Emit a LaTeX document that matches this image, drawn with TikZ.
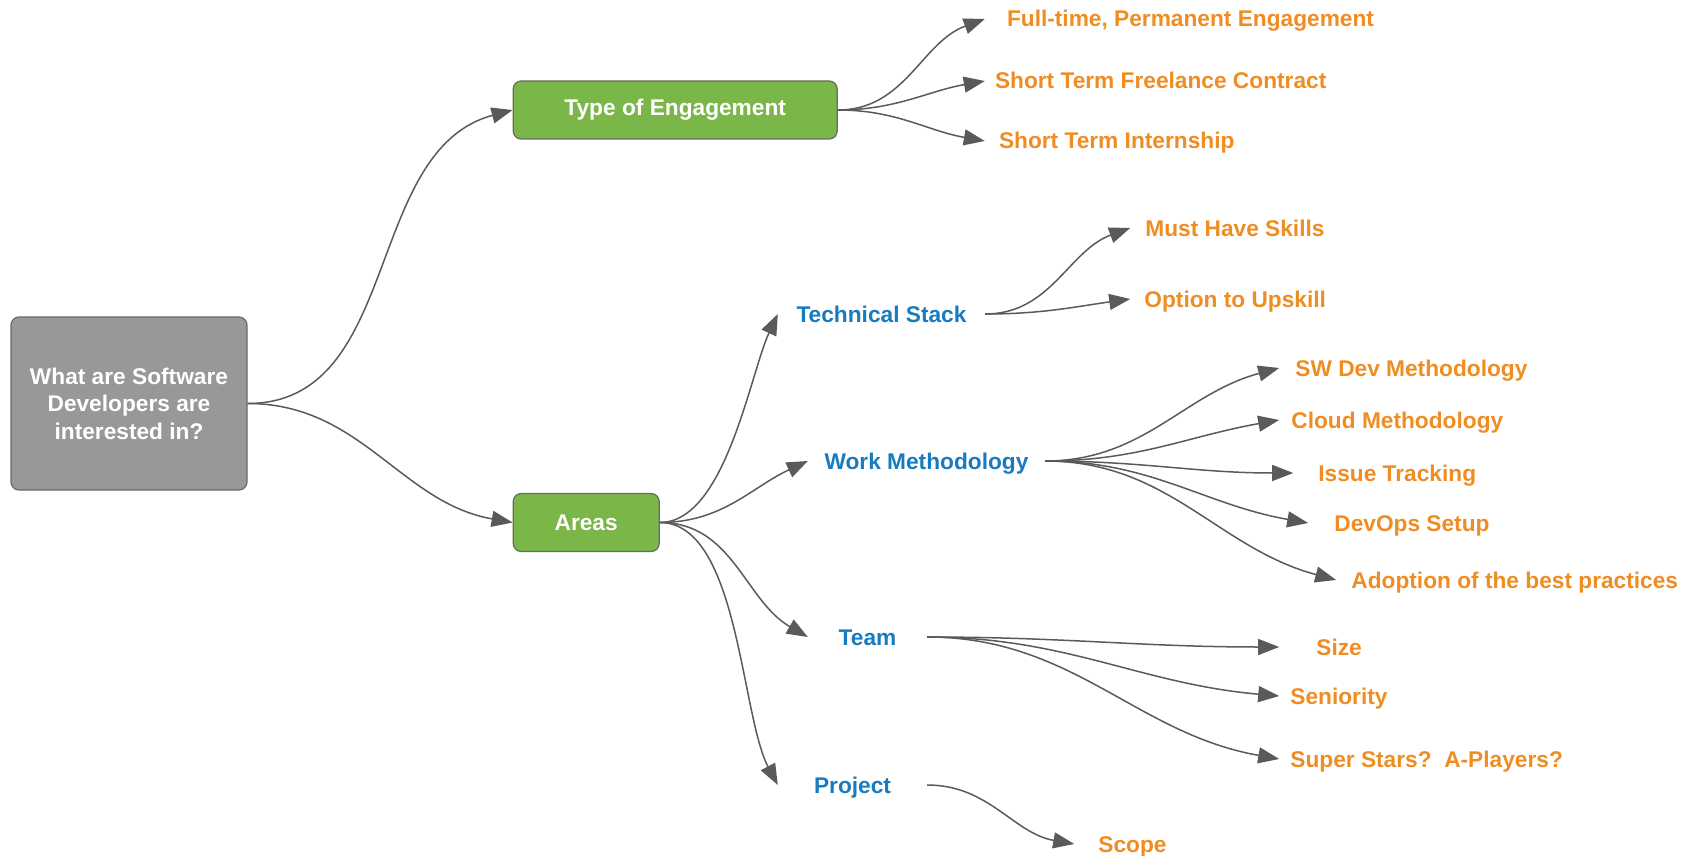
\documentclass[tikz,border=0pt]{standalone}
\usepackage{fontspec}
\setmainfont{Liberation Sans}
\usetikzlibrary{arrows.meta}
\usetikzlibrary{positioning}

\definecolor{boxgray}{HTML}{989898}
\definecolor{boxgreen}{HTML}{7AB648}
\definecolor{rimgray}{HTML}{6A6A6A}
\definecolor{leaforange}{HTML}{EF8D22}
\definecolor{areablue}{HTML}{177BBF}
\definecolor{linkgray}{HTML}{5A5A5A}

\tikzset{
	question/.style={draw=rimgray, fill=boxgray, rounded corners=8pt, line width=1.2pt, text=white, align=center, minimum width=236pt, minimum height=173pt},
	topic/.style={draw=rimgray, fill=boxgreen, rounded corners=8pt, line width=1.2pt, text=white, minimum height=58pt},
	area/.style={text=areablue, inner sep=0pt, text height=16pt, text depth=0pt},
	leaf/.style={text=leaforange, inner ysep=0pt, text height=16pt, text depth=0pt},
}

\begin{document}
\begin{tikzpicture}[x=1pt,y=-1pt,font=\bfseries\fontsize{22.7pt}{27.4pt}\selectfont,>={Triangle[length=21pt,width=16pt]}]
	\useasboundingbox (0,0) rectangle (1690,856);
	\node[question] (Q) at (129,403.5) {What are Software\\Developers are\\interested in?};
	\node[topic, minimum width=324pt, right=265pt of Q.east, yshift=293.5pt] (TE) {Type of Engagement};
	\node[topic, minimum width=146pt, right=265pt of Q.east, yshift=-119pt] (AR) {Areas};
	% type of engagement
	\node[leaf, inner xsep=22pt, right=147pt of TE.east, yshift=91pt] (FT) {Full-time, Permanent Engagement};
	\node[leaf, inner xsep=10pt, right=147pt of TE.east, yshift=29pt] (FL) {Short Term Freelance Contract};
	\node[leaf, inner xsep=14pt, right=147pt of TE.east, yshift=-31pt] (IN) {Short Term Internship};
	% areas
	\node[area, minimum width=207pt, right=118pt of AR.east, yshift=208.5pt] (TS) {Technical Stack};
	\node[area, minimum width=237pt, right=148pt of AR.east, yshift=61.5pt] (WM) {Work Methodology};
	\node[area, minimum width=119pt, right=148pt of AR.east, yshift=-114.5pt] (TM) {Team};
	\node[area, minimum width=149pt, right=118pt of AR.east, yshift=-262.5pt] (PR) {Project};
	\node[leaf, inner xsep=15pt, right=145pt of TS.east, yshift=86pt] (MH) {Must Have Skills};
	\node[leaf, inner xsep=14pt, right=145pt of TS.east, yshift=15pt] (OU) {Option to Upskill};
	\node[leaf, inner xsep=16pt, right=234pt of WM.east, yshift=93pt] (SW) {SW Dev Methodology};
	\node[leaf, inner xsep=12pt, right=234pt of WM.east, yshift=41pt] (CM) {Cloud Methodology};
	\node[leaf, inner xsep=25pt, right=248pt of WM.east, yshift=-12pt] (IT) {Issue Tracking};
	\node[leaf, inner xsep=26pt, right=263pt of WM.east, yshift=-62pt] (DO) {DevOps Setup};
	\node[leaf, inner xsep=15pt, right=291pt of WM.east, yshift=-119pt] (AD) {Adoption of the best practices};
	\node[leaf, inner xsep=37pt, right=352pt of TM.east, yshift=-10pt] (SZ) {Size};
	\node[leaf, inner xsep=11pt, right=352pt of TM.east, yshift=-59pt] (SE) {Seniority};
	\node[leaf, inner xsep=11pt, right=352pt of TM.east, yshift=-122pt] (SS) {Super Stars?\ \ A-Players?};
	\node[leaf, inner xsep=24pt, right=147pt of PR.east, yshift=-59pt] (SC) {Scope};
	\path[->, color=linkgray, line width=1.5pt]
	(Q.east)	edge [out=0, in=195]	(TE.west)
	(Q.east)	edge [out=0, in=170]	(AR.west)
	(TE.east)	edge [out=0, in=200]	(FT.west)
	(TE.east)	edge [out=0, in=190]	(FL.west)
	(TE.east)	edge [out=0, in=170]	(IN.west)
	(AR.east)	edge [out=0, in=245, looseness=0.7]	(TS.west)
	(AR.east)	edge [out=0, in=205]	(WM.west)
	(AR.east)	edge [out=0, in=150]	(TM.west)
	(AR.east)	edge [out=0, in=118, looseness=0.7]	(PR.west)
	(TS.east)	edge [out=0, in=200]	(MH.west)
	(TS.east)	edge [out=0, in=188]	(OU.west)
	(WM.east)	edge [out=0, in=195]	(SW.west)
	(WM.east)	edge [out=0, in=190]	(CM.west)
	(WM.east)	edge [out=0, in=180]	(IT.west)
	(WM.east)	edge [out=0, in=170]	(DO.west)
	(WM.east)	edge [out=0, in=165]	(AD.west)
	(TM.east)	edge [out=0, in=180]	(SZ.west)
	(TM.east)	edge [out=0, in=175]	(SE.west)
	(TM.east)	edge [out=0, in=170]	(SS.west)
	(PR.east)	edge [out=0, in=170]	(SC.west);
\end{tikzpicture}
\end{document}
